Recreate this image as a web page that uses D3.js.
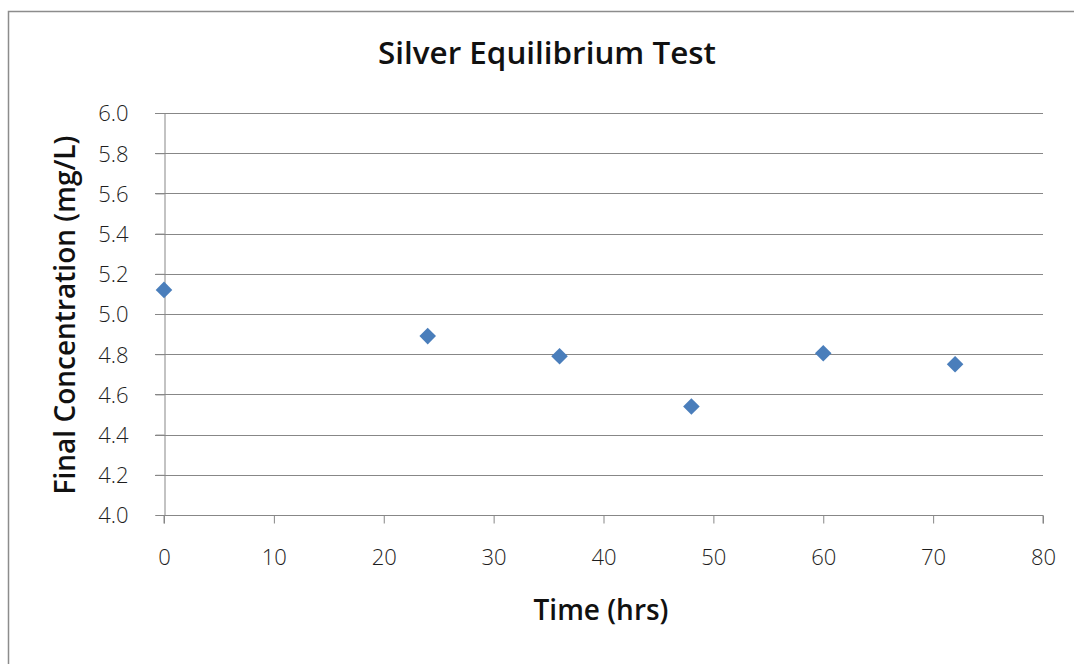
<!DOCTYPE html>
<html><head><meta charset="utf-8">
<script src="https://cdn.jsdelivr.net/npm/d3@7"></script>
<style>body{margin:0;background:#fff}svg{display:block}</style>
</head><body>
<script>
const timeHrs = [0, 24, 36, 48, 60, 72];
const concentration = [5.12, 4.89, 4.79, 4.54, 4.805, 4.75];
const yTicks = [4.0, 4.2, 4.4, 4.6, 4.8, 5.0, 5.2, 5.4, 5.6, 5.8, 6.0];
const xTicks = [0, 10, 20, 30, 40, 50, 60, 70, 80];
const title = "Silver Equilibrium Test";
const xTitle = "Time (hrs)";
const yTitle = "Final Concentration (mg/L)";

const W = 1074, H = 664;
const svg = d3.select("body").append("svg").attr("width", W).attr("height", H);
svg.append("rect").attr("x", 8.5).attr("y", 11.5).attr("width", W + 20).attr("height", H + 20)
  .attr("fill", "#fff").attr("stroke", "#8c8c8c").attr("stroke-width", 1.5);

const x = d3.scaleLinear().domain([0, 80]).range([164, 1043]);
const y = d3.scaleLinear().domain([4.0, 6.0]).range([515, 113]);
const font = "'Open Sans', 'Liberation Sans', sans-serif";

// gridlines
svg.append("g").selectAll("line").data(yTicks.filter(d => d > 4.0)).join("line")
  .attr("x1", 155).attr("x2", x(80)).attr("y1", d => Math.round(y(d)) + 0.5).attr("y2", d => Math.round(y(d)) + 0.5)
  .attr("stroke", "#878787").attr("stroke-width", 1);

const yAxis = d3.axisLeft(y).tickValues(yTicks).tickFormat(d3.format(".1f")).tickSize(9).tickPadding(27);
const gy = svg.append("g").attr("transform", `translate(${x(0) + 0.5},0)`).call(yAxis);
const xAxis = d3.axisBottom(x).tickValues(xTicks).tickFormat(d3.format("d")).tickSize(8).tickPadding(30);
const gx = svg.append("g").attr("transform", `translate(0,${Math.round(y(4.0)) + 0.5})`).call(xAxis);
[gx, gy].forEach(g => {
  g.select(".domain").attr("stroke", "#878787");
  g.selectAll(".tick line").attr("stroke", "#878787");
  g.selectAll("text").attr("font-family", font).attr("font-size", 22).attr("font-weight", 300).attr("fill", "#1e1e1e");
});
gy.selectAll("text").attr("dy", "0.36em");
gx.selectAll("text").attr("dy", "0.5em");
gx.select(".domain").attr("d", `M${x(0)},8V0H${x(80)}V8`);

// points
svg.append("g").selectAll("path").data(timeHrs.map((t, i) => [t, concentration[i]])).join("path")
  .attr("d", d3.symbol().type(d3.symbolDiamond2).size(175))
  .attr("transform", d => `translate(${x(d[0])},${y(d[1])})`)
  .attr("fill", "#4a7ebb");

function fit(sel, target) {
  const len = sel.node().getComputedTextLength();
  const fs = +sel.attr("font-size");
  sel.attr("font-size", fs * target / len);
}
const t1 = svg.append("text").attr("x", 547).attr("y", 64).attr("text-anchor", "middle")
  .attr("font-family", font).attr("font-weight", 600).attr("font-size", 24).attr("fill", "#111").text(title);
fit(t1, 338);
const t2 = svg.append("text").attr("x", 601).attr("y", 620).attr("text-anchor", "middle")
  .attr("font-family", font).attr("font-weight", 600).attr("font-size", 22).attr("fill", "#111").text(xTitle);
fit(t2, 135);
const t3 = svg.append("text").attr("transform", "translate(75,315) rotate(-90)").attr("text-anchor", "middle")
  .attr("font-family", font).attr("font-weight", 600).attr("font-size", 22).attr("fill", "#111").text(yTitle);
fit(t3, 359);
</script>
</body></html>
